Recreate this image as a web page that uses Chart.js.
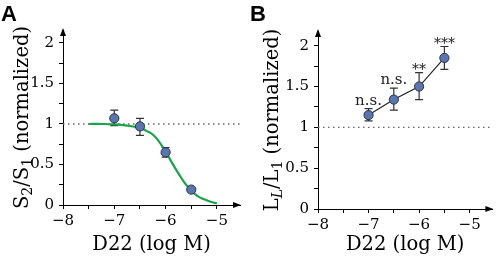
<!DOCTYPE html>
<html>
<head>
<meta charset="utf-8">
<script src="https://cdn.jsdelivr.net/npm/chart.js@4.4.0/dist/chart.umd.min.js"></script>
<style>
  body { margin: 0; background: #fff; }
  #wrap { position: relative; width: 498px; height: 258px; }
  canvas { position: absolute; top: 0; }
  #cA { left: 0; }
  #cB { left: 249px; }
</style>
</head>
<body>
<div id="wrap">
  <canvas id="cA" width="249" height="258"></canvas>
  <canvas id="cB" width="249" height="258"></canvas>
</div>
<script>
// x positions of the measured concentrations (log M)
const doses = [-7, -6.5, -6, -5.5];

// panel A: S2/S1
const aMean = [1.07, 0.97, 0.65, 0.19];
const aLow  = [0.98, 0.86, 0.59, 0.17];
const aHigh = [1.17, 1.07, 0.71, 0.21];
// fitted curve
const fitX = [-7.5, -7.25, -7, -6.75, -6.5, -6.375, -6.25, -6.125, -6, -5.875, -5.75, -5.625, -5.5, -5.375, -5.25, -5.125, -5];
const fitY = [1.0, 1.0, 0.995, 0.98, 0.95, 0.915, 0.87, 0.78, 0.66, 0.52, 0.39, 0.27, 0.18, 0.11, 0.07, 0.04, 0.02];

// panel B: LL/L1
const bMean = [1.15, 1.34, 1.50, 1.85];
const bLow  = [1.08, 1.21, 1.34, 1.71];
const bHigh = [1.23, 1.48, 1.67, 1.99];
const bStars = ['n.s.', 'n.s.', '**', '***'];

const xTicks = [-8, -7.5, -7, -6.5, -6, -5.5, -5];
const yTicks = [0, 0.25, 0.5, 0.75, 1, 1.25, 1.5, 1.75, 2];
const refLine = 1;

const SERIF = '"DejaVu Serif", serif';
const pointFill = '#5a76ad';
const pointEdge = '#26324f';

function fmtX(v) {
  if (!Number.isInteger(v)) return '';
  return v < 0 ? '\u2212' + (-v) : String(v);
}
function fmtY(v) {
  return (Math.round(v * 2) === v * 2) ? String(v) : '';
}

// draws error bars, axis arrows, y title (with subscripts), letters and stars
function decorPlugin(opts) {
  return {
    id: 'decor',
    beforeDatasetsDraw(chart) {
      const ctx = chart.ctx, x = chart.scales.x, y = chart.scales.y;
      ctx.save();
      ctx.strokeStyle = '#333';
      ctx.lineWidth = 1.2;
      doses.forEach((d, i) => {
        const px = x.getPixelForValue(d);
        const lo = y.getPixelForValue(opts.low[i]);
        const hi = y.getPixelForValue(opts.high[i]);
        ctx.beginPath();
        ctx.moveTo(px, lo); ctx.lineTo(px, hi);
        ctx.moveTo(px - 4, lo); ctx.lineTo(px + 4, lo);
        ctx.moveTo(px - 4, hi); ctx.lineTo(px + 4, hi);
        ctx.stroke();
      });
      ctx.restore();
    },
    afterDraw(chart) {
      const ctx = chart.ctx, a = chart.chartArea;
      ctx.save();
      ctx.fillStyle = '#000';
      // arrows
      ctx.beginPath();
      ctx.moveTo(a.left, a.top - 2);
      ctx.lineTo(a.left - 3, a.top + 6);
      ctx.lineTo(a.left + 3, a.top + 6);
      ctx.closePath();
      ctx.fill();
      ctx.beginPath();
      ctx.moveTo(a.right + 1, a.bottom);
      ctx.lineTo(a.right - 7, a.bottom - 3);
      ctx.lineTo(a.right - 7, a.bottom + 3);
      ctx.closePath();
      ctx.fill();

      // panel letter
      ctx.font = 'bold 22px "Liberation Sans", Arial, sans-serif';
      ctx.textBaseline = 'alphabetic';
      ctx.textAlign = 'left';
      ctx.fillText(opts.letter, 1, 21);

      // y title, rotated
      ctx.translate(opts.titleX, (a.top + a.bottom) / 2 + opts.titleShift);
      ctx.rotate(-Math.PI / 2);
      const big = 19.5, small = 14;
      const parts = opts.title;
      let w = 0;
      parts.forEach(p => {
        ctx.font = (p.it ? 'italic ' : '') + (p.sub ? small : big) + 'px ' + SERIF;
        p.w = ctx.measureText(p.t).width;
        w += p.w;
      });
      let cx = -w / 2;
      ctx.textAlign = 'left';
      parts.forEach(p => {
        ctx.font = (p.it ? 'italic ' : '') + (p.sub ? small : big) + 'px ' + SERIF;
        ctx.fillText(p.t, cx, p.sub ? 11 : 7);
        cx += p.w;
      });
      ctx.restore();

      // significance marks
      if (opts.stars) {
        const x = chart.scales.x, y = chart.scales.y;
        ctx.save();
        ctx.fillStyle = '#222';
        ctx.textAlign = 'center';
        doses.forEach((d, i) => {
          const s = opts.stars[i];
          const star = s[0] === '*';
          ctx.font = (star ? 14 : 15) + 'px ' + SERIF;
          const px = x.getPixelForValue(d);
          const py = y.getPixelForValue(opts.high[i]) - (star ? -1 : 4);
          ctx.fillText(s, px, py);
        });
        ctx.restore();
      }
    }
  };
}

function makePanel(id, opts) {
  const datasets = [
    {
      type: 'line',
      data: [{x: -8, y: refLine}, {x: opts.xMax, y: refLine}],
      borderColor: '#666', borderWidth: 1.4, borderDash: [1.5, 3.5],
      pointRadius: 0, order: 5
    },
    {
      type: 'scatter',
      data: doses.map((d, i) => ({x: d, y: opts.mean[i]})),
      showLine: !!opts.joinPoints,
      borderColor: '#222', borderWidth: 1.2,
      pointRadius: 4.6, pointBackgroundColor: pointFill,
      pointBorderColor: pointEdge, pointBorderWidth: 1,
      order: 1
    }
  ];
  if (opts.fit) {
    datasets.push({
      type: 'line',
      data: opts.fit.x.map((v, i) => ({x: v, y: opts.fit.y[i]})),
      borderColor: '#1aa34a', borderWidth: 2.2, tension: 0.4,
      pointRadius: 0, order: 3
    });
  }
  return new Chart(document.getElementById(id), {
    type: 'scatter',
    data: { datasets },
    options: {
      responsive: false,
      animation: false,
      layout: { padding: { top: opts.top, right: opts.right, left: 0, bottom: 0 } },
      plugins: { legend: { display: false }, tooltip: { enabled: false } },
      scales: {
        x: {
          type: 'linear', min: -8, max: opts.xMax,
          afterBuildTicks: s => { s.ticks = xTicks.map(v => ({value: v})); },
          afterFit: s => { s.height = opts.xHeight; },
          border: { display: true, color: '#000', width: 1 },
          grid: { display: true, drawOnChartArea: false, drawTicks: true, tickLength: 4, color: '#000' },
          ticks: { callback: fmtX, color: '#000', padding: 3, maxRotation: 0, autoSkip: false,
                   font: { family: SERIF, size: 15 } },
          title: { display: true, text: 'D22 (log M)', color: '#000',
                   font: { family: SERIF, size: 19.5 }, padding: { top: 0, bottom: 1 } }
        },
        y: {
          type: 'linear', min: 0, max: opts.yMax,
          afterBuildTicks: s => { s.ticks = yTicks.map(v => ({value: v})); },
          afterFit: s => { s.width = opts.yWidth; },
          border: { display: true, color: '#000', width: 1 },
          grid: { display: true, drawOnChartArea: false, drawTicks: true, tickLength: 4, color: '#000' },
          ticks: { callback: fmtY, color: '#000', padding: 5, autoSkip: false,
                   font: { family: SERIF, size: 15 } }
        }
      }
    },
    plugins: [decorPlugin(opts)]
  });
}

makePanel('cA', {
  letter: 'A', mean: aMean, low: aLow, high: aHigh,
  fit: { x: fitX, y: fitY },
  xMax: -4.55, yMax: 2.16, top: 30, right: 9, yWidth: 63, xHeight: 53,
  titleX: 21, titleShift: 0,
  title: [{t: 'S'}, {t: '2', sub: true}, {t: '/S'}, {t: '1', sub: true}, {t: ' (normalized)'}]
});

makePanel('cB', {
  letter: 'B', mean: bMean, low: bLow, high: bHigh, stars: bStars, joinPoints: true,
  xMax: -4.55, yMax: 2.18, top: 31, right: 1, yWidth: 69, xHeight: 49,
  titleX: 22, titleShift: 0,
  title: [{t: 'L'}, {t: 'L', sub: true, it: true}, {t: '/L'}, {t: '1', sub: true}, {t: ' (normalized)'}]
});
</script>
</body>
</html>
